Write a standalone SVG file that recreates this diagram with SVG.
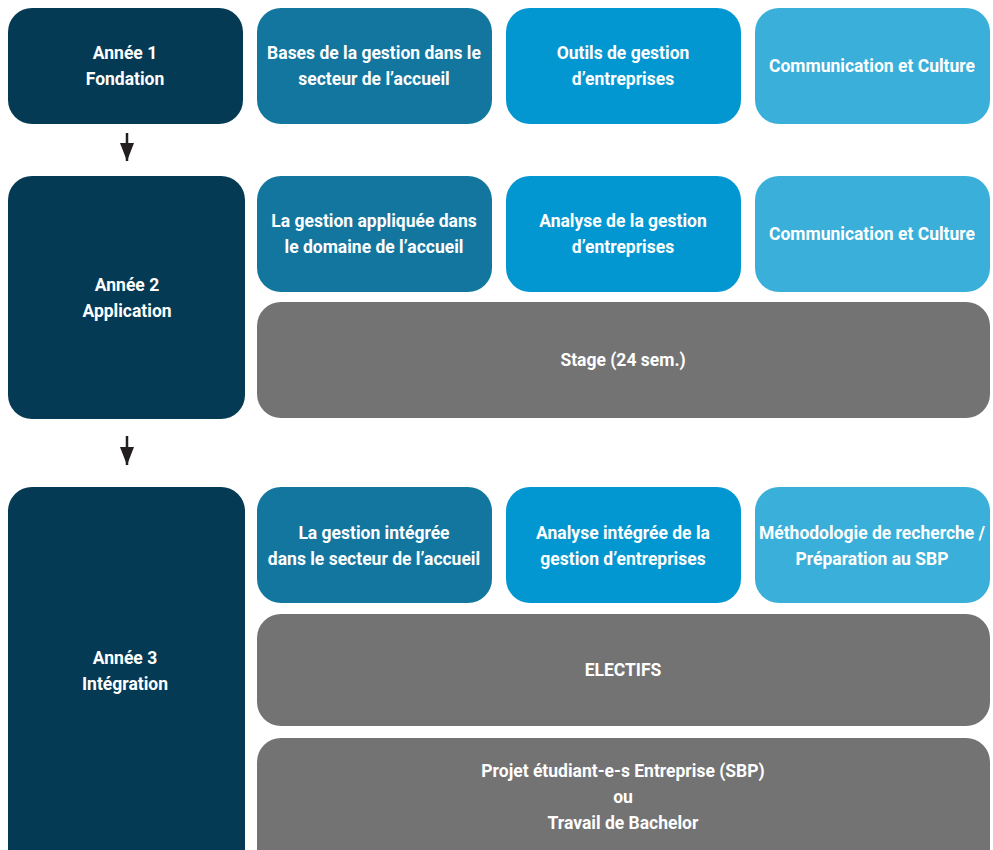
<svg xmlns="http://www.w3.org/2000/svg" width="993" height="850" viewBox="0 0 993 850">
<style>
text{font-family:Roboto,"Liberation Sans",sans-serif;font-weight:bold;font-size:17.5px;fill:#fff;text-anchor:middle}
.y{fill:#043a53}.c1{fill:#13769f}.c2{fill:#0397d1}.c3{fill:#39afd9}.g{fill:#737373}
</style>
<defs>
<marker id="ah" markerWidth="18" markerHeight="14" refX="18" refY="7" orient="auto" markerUnits="userSpaceOnUse" viewBox="0 0 18 14">
<path d="M0,0 L18,7 L0,14 Z" fill="#231f20"/>
</marker>
</defs>
<rect width="993" height="850" fill="#fff"/>
<g id="connectors" stroke="#231f20" stroke-width="2.5" fill="none">
<path d="M127,133 V161" marker-end="url(#ah)"/>
<path d="M127,436 V465" marker-end="url(#ah)"/>
</g>
<g id="annee1"><rect class="y" x="8" y="8" width="235" height="116" rx="24"/><text x="125" y="59">Année 1</text><text x="125" y="85">Fondation</text></g>
<g id="bases"><rect class="c1" x="257" y="8" width="235" height="116" rx="24"/><text x="374" y="59">Bases de la gestion dans le</text><text x="374" y="85">secteur de l’accueil</text></g>
<g id="outils"><rect class="c2" x="506" y="8" width="235" height="116" rx="24"/><text x="623" y="59">Outils de gestion</text><text x="623" y="85">d’entreprises</text></g>
<g id="comm1"><rect class="c3" x="755" y="8" width="235" height="116" rx="24"/><text x="872" y="72">Communication et Culture</text></g>
<g id="annee2"><rect class="y" x="8" y="176" width="237" height="243" rx="24"/><text x="127" y="291">Année 2</text><text x="127" y="317">Application</text></g>
<g id="appliquee"><rect class="c1" x="257" y="176" width="235" height="116" rx="24"/><text x="374" y="227">La gestion appliquée dans</text><text x="374" y="253">le domaine de l’accueil</text></g>
<g id="analyse"><rect class="c2" x="506" y="176" width="235" height="116" rx="24"/><text x="623" y="227">Analyse de la gestion</text><text x="623" y="253">d’entreprises</text></g>
<g id="comm2"><rect class="c3" x="755" y="176" width="235" height="116" rx="24"/><text x="872" y="240">Communication et Culture</text></g>
<g id="stage"><rect class="g" x="257" y="302" width="733" height="116" rx="24"/><text x="623" y="366">Stage (24 sem.)</text></g>
<g id="annee3"><rect class="y" x="8" y="487" width="237" height="390" rx="24"/><text x="125" y="664">Année 3</text><text x="125" y="690">Intégration</text></g>
<g id="integree"><rect class="c1" x="257" y="487" width="235" height="116" rx="24"/><text x="374" y="539">La gestion intégrée</text><text x="374" y="565">dans le secteur de l’accueil</text></g>
<g id="analyse3"><rect class="c2" x="506" y="487" width="235" height="116" rx="24"/><text x="623" y="539">Analyse intégrée de la</text><text x="623" y="565">gestion d’entreprises</text></g>
<g id="methodo"><rect class="c3" x="755" y="487" width="235" height="116" rx="24"/><text x="872" y="539">Méthodologie de recherche /</text><text x="872" y="565">Préparation au SBP</text></g>
<g id="electifs"><rect class="g" x="257" y="614" width="733" height="112" rx="24"/><text x="623" y="676">ELECTIFS</text></g>
<g id="projet"><rect class="g" x="257" y="738" width="733" height="140" rx="24"/><text x="623" y="777">Projet étudiant-e-s Entreprise (SBP)</text><text x="623" y="803">ou</text><text x="623" y="829">Travail de Bachelor</text></g>
</svg>
